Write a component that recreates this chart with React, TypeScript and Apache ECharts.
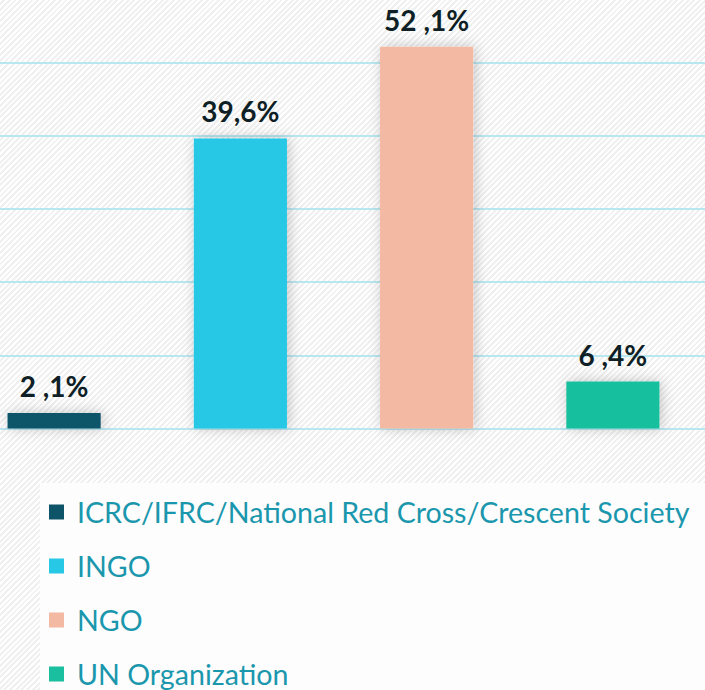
import React, { useEffect, useRef } from "react";
import * as echarts from "echarts";

const categories = ["ICRC/IFRC/National Red Cross/Crescent Society", "INGO", "NGO", "UN Organization"];
const values = [2.1, 39.6, 52.1, 6.4];
const labels = ["2 ,1%", "39,6%", "52 ,1%", "6 ,4%"];
const colors = ["#0e5469", "#26c8e6", "#f3b9a3", "#19bf9e"];

export default function App() {
  const ref = useRef<HTMLDivElement>(null);
  useEffect(() => {
    if (!ref.current) return;
    const chart = echarts.init(ref.current, null, { renderer: "svg" });
    const series = categories.map((name, i) => ({
      name,
      type: "bar",
      stack: "total",
      barWidth: "50%",
      data: categories.map((_, j) => (j === i ? values[i] : "-")),
      itemStyle: {
        color: colors[i],
        shadowBlur: 14,
        shadowColor: "rgba(0,0,0,0.22)",
        shadowOffsetX: 2,
        shadowOffsetY: 0,
      },
      label: {
        show: true,
        position: "top",
        distance: 16,
        formatter: () => labels[i],
        fontFamily: "Lato",
        fontWeight: "bold",
        fontSize: 28,
        lineHeight: 22,
        color: "#0f1f26",
      },
    }));
    chart.setOption({
      animation: false,
      backgroundColor: "transparent",
      graphic: [
        {
          type: "rect",
          left: 40,
          top: 483,
          shape: { width: 665, height: 207 },
          style: { fill: "#fdfdfd" },
          z: -10,
        },
      ],
      grid: {
        left: -39,
        right: -1,
        top: -11,
        bottom: 261.5,
        containLabel: false,
        outerBoundsMode: "none",
      },
      xAxis: {
        type: "category",
        data: categories,
        axisLine: { show: false },
        axisTick: { show: false },
        axisLabel: { show: false },
      },
      yAxis: {
        type: "value",
        min: 0,
        max: 60,
        interval: 10,
        axisLabel: { show: false },
        axisLine: { show: false },
        axisTick: { show: false },
        splitLine: { lineStyle: { color: "#b9e7f0", width: 2 } },
      },
      legend: {
        orient: "vertical",
        left: 49,
        top: 497,
        padding: 0,
        height: 200,
        itemWidth: 15,
        itemHeight: 15,
        itemGap: 24,
        icon: "rect",
        data: categories,
        textStyle: {
          fontFamily: "Lato",
          fontSize: 28.6,
          lineHeight: 30,
          color: "#1b97ad",
          padding: [0, 0, 0, 8],
        },
      },
      series,
    });
    return () => chart.dispose();
  }, []);
  return (
    <div
      style={{
        position: "fixed",
        left: 0,
        top: 0,
        width: 705,
        height: 690,
        backgroundColor: "#f6f6f6",
        backgroundImage:
          "repeating-linear-gradient(135deg, #ffffff 0px, #ffffff 2px, #f0f0f0 2px, #f0f0f0 4px)",
      }}
    >
      <div ref={ref} style={{ width: 705, height: 690 }} />
    </div>
  );
}
